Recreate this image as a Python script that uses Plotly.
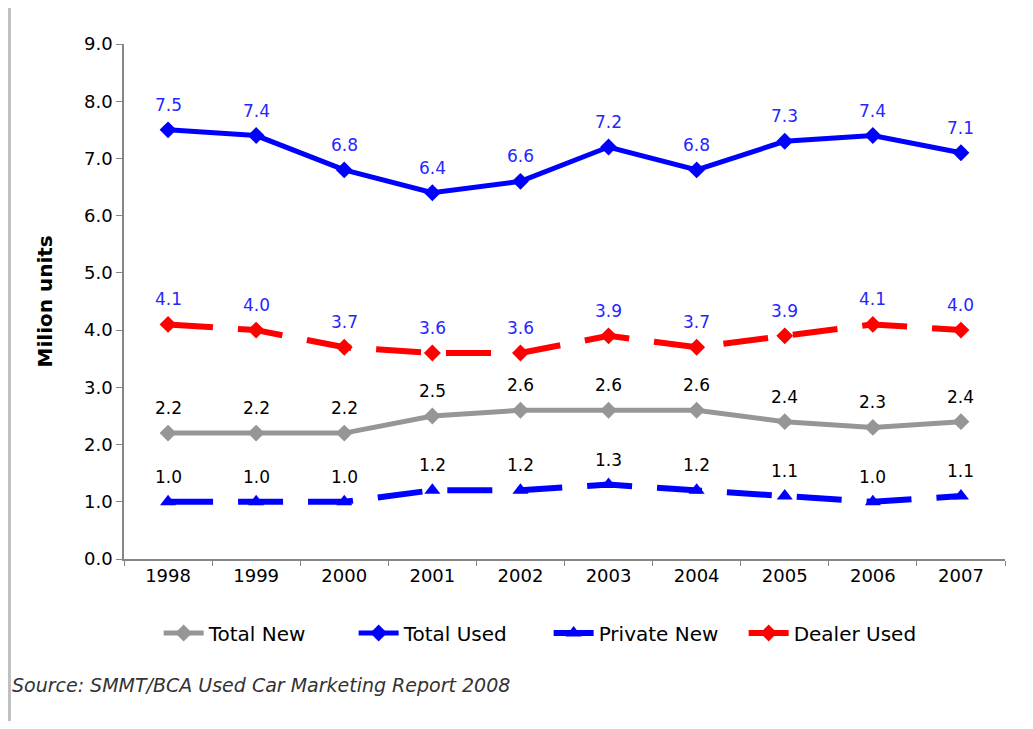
import plotly.graph_objects as go

years = ["1998", "1999", "2000", "2001", "2002", "2003", "2004", "2005", "2006", "2007"]
total_new = [2.2, 2.2, 2.2, 2.5, 2.6, 2.6, 2.6, 2.4, 2.3, 2.4]
total_used = [7.5, 7.4, 6.8, 6.4, 6.6, 7.2, 6.8, 7.3, 7.4, 7.1]
private_new = [1.0, 1.0, 1.0, 1.2, 1.2, 1.3, 1.2, 1.1, 1.0, 1.1]
dealer_used = [4.1, 4.0, 3.7, 3.6, 3.6, 3.9, 3.7, 3.9, 4.1, 4.0]
y_ticks = [0, 1, 2, 3, 4, 5, 6, 7, 8, 9]

FONT = "Verdana, DejaVu Sans, sans-serif"

series = [
    dict(name="Total New", y=total_new, color="#969696", dash="solid", symbol="diamond", width=5, msize=13, label="#000000"),
    dict(name="Total Used", y=total_used, color="#0000FF", dash="solid", symbol="diamond", width=5, msize=13, label="#2626FF"),
    dict(name="Private New", y=private_new, color="#0000FF", dash="45px,25px", symbol="triangle-up", width=6, msize=14, label="#000000"),
    dict(name="Dealer Used", y=dealer_used, color="#FF0000", dash="45px,25px", symbol="diamond", width=6, msize=13, label="#2626FF"),
]

fig = go.Figure()
annotations = []
for s in series:
    fig.add_trace(go.Scatter(
        x=years, y=s["y"], name=s["name"], mode="lines+markers",
        line=dict(color=s["color"], width=s["width"], dash=s["dash"]),
        marker=dict(symbol=s["symbol"], size=s["msize"], color=s["color"]),
    ))
    for i, yv in enumerate(s["y"]):
        annotations.append(dict(
            x=i, y=yv, xref="x", yref="y", text=f"{yv:.1f}", showarrow=False,
            yshift=25, yanchor="middle", xanchor="center",
            font=dict(family=FONT, size=17, color=s["label"]),
        ))

annotations.append(dict(
    x=-0.0897, y=0.5, xref="paper", yref="paper", text="<b>Milion units</b>",
    textangle=-90, showarrow=False, xanchor="center", yanchor="middle",
    font=dict(family=FONT, size=20, color="#000000"),
))
annotations.append(dict(
    x=-0.1294, y=-0.2447, xref="paper", yref="paper",
    text="<i>Source: SMMT/BCA Used Car Marketing Report 2008</i>",
    showarrow=False, xanchor="left", yanchor="middle",
    font=dict(family=FONT, size=19, color="#333333"),
))

fig.update_layout(
    width=1017, height=713,
    margin=dict(l=116, r=20, t=36, b=162),
    paper_bgcolor="white", plot_bgcolor="white",
    font=dict(family=FONT, size=18, color="#000000"),
    showlegend=True,
    legend=dict(orientation="h", x=0.482, xanchor="center", y=-0.1437, yanchor="middle",
                font=dict(family=FONT, size=20, color="#000000"), traceorder="normal",
                itemwidth=40, entrywidth=140, entrywidthmode="pixels"),
    annotations=annotations,
    shapes=[dict(type="line", xref="paper", yref="paper",
                 x0=-0.1300, x1=-0.1300, y0=1.08, y1=-0.33,
                 line=dict(color="#BFBFBF", width=3))],
)
fig.update_xaxes(
    type="category", range=[-0.5, 9.5], showgrid=False,
    showline=True, linecolor="#868686", linewidth=1.5,
    ticks="outside", tickson="boundaries", ticklen=5, tickcolor="#868686",
    tickfont=dict(family=FONT, size=18, color="#000000"),
)
fig.update_yaxes(
    range=[0, 9], tickvals=y_ticks, tickformat=".1f", showgrid=False, zeroline=False,
    showline=True, linecolor="#868686", linewidth=1.5,
    ticks="outside", ticklen=6, tickcolor="#868686",
    tickfont=dict(family=FONT, size=18, color="#000000"),
)

fig.write_html("out.html")
